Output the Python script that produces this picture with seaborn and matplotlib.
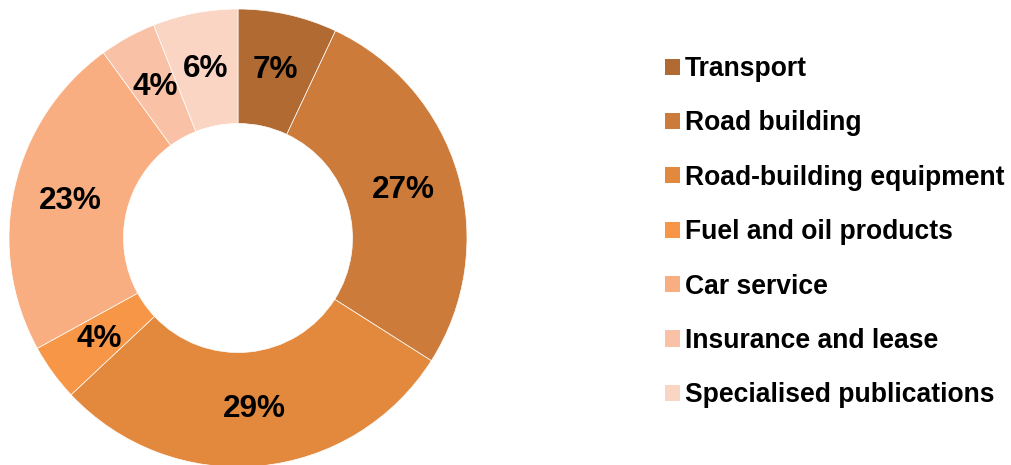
import matplotlib
matplotlib.use("Agg")
import matplotlib.pyplot as plt
import seaborn as sns

categories = ["Transport", "Road building", "Road-building equipment",
              "Fuel and oil products", "Car service", "Insurance and lease",
              "Specialised publications"]
shares = [7, 27, 29, 4, 23, 4, 6]

colors = ["#B06A32", "#CC7B3A", "#E2893E", "#F79646", "#F8AE80", "#F9C1A6", "#FAD5C4"]

sns.set_theme(style="white")
plt.rcParams['font.family'] = ['Liberation Sans', 'DejaVu Sans']
plt.rcParams['text.color'] = 'black'

fig = plt.figure(figsize=(10.12, 4.65), dpi=100)
W, H = 1012, 465
cx, cy, R = 238, 238, 229
ax = fig.add_axes([(cx - R) / W, (H - cy - R) / H, 2 * R / W, 2 * R / H])

wedges, texts, autotexts = ax.pie(
    shares, colors=colors, startangle=90, counterclock=False,
    autopct=lambda p: f"{p:.0f}%", pctdistance=0.75,
    wedgeprops=dict(width=0.5, edgecolor="white", linewidth=0.5),
    textprops=dict(fontsize=22.7, fontweight="bold", color="black"))
ax.set_xlim(-1, 1)
ax.set_ylim(-1, 1)
ax.set_aspect("equal")

leg = fig.legend(wedges, categories, loc="upper left",
                 bbox_to_anchor=(665 / W, 1 - 56 / H),
                 frameon=False, prop=dict(size=19.1, weight="bold"),
                 labelcolor="black",
                 handlelength=0.56, handleheight=0.56, handletextpad=0.2,
                 labelspacing=1.07, borderaxespad=0, borderpad=0)
for h in leg.legend_handles:
    h.set_edgecolor("none")

fig.savefig("out.png", dpi=100)
